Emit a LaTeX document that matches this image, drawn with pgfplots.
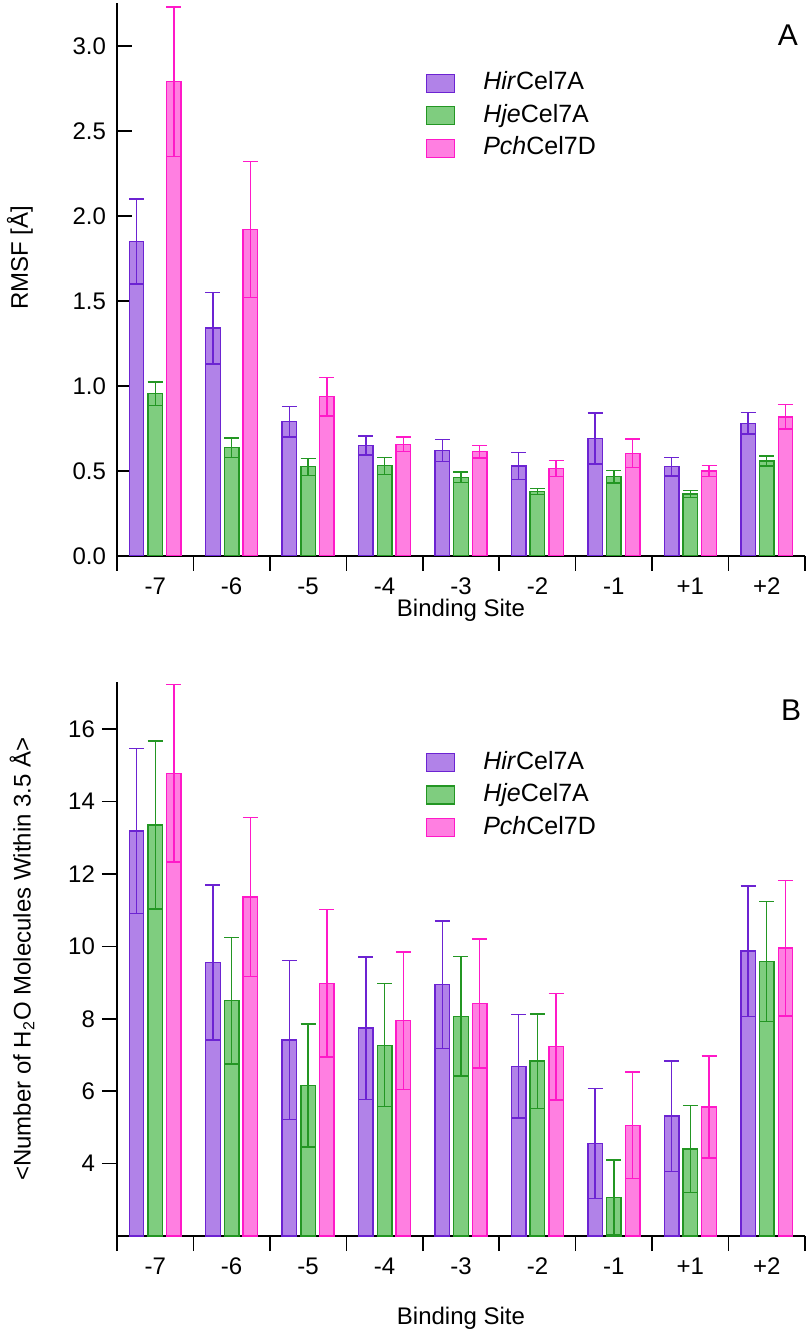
\documentclass[border=0pt]{standalone}
\usepackage{pgfplots}
\pgfplotsset{compat=1.18}
\usepackage{pgfplotstable}
\usepackage{fontspec}
\setmainfont{Liberation Sans}

\definecolor{pE}{RGB}{108,35,210}
\definecolor{pF}{RGB}{177,130,232}
\definecolor{gE}{RGB}{35,150,35}
\definecolor{gF}{RGB}{127,205,127}
\definecolor{mE}{RGB}{255,25,200}
\definecolor{mF}{RGB}{255,127,225}

% RMSF data: x, value, error
\pgfplotstableread{
x y e
0 1.85 0.25
1 1.34 0.21
2 0.79 0.09
3 0.65 0.057
4 0.62 0.064
5 0.53 0.08
6 0.69 0.15
7 0.525 0.055
8 0.78 0.063
}\AHir
\pgfplotstableread{
x y e
0 0.955 0.068
1 0.637 0.057
2 0.525 0.05
3 0.531 0.05
4 0.463 0.03
5 0.38 0.018
6 0.467 0.037
7 0.365 0.02
8 0.559 0.03
}\AHje
\pgfplotstableread{
x y e
0 2.79 0.44
1 1.92 0.40
2 0.937 0.114
3 0.657 0.043
4 0.614 0.037
5 0.516 0.047
6 0.604 0.085
7 0.50 0.033
8 0.818 0.072
}\APch
% water count data
\pgfplotstableread{
x y e
0 13.19 2.28
1 9.55 2.14
2 7.41 2.20
3 7.74 1.97
4 8.94 1.76
5 6.69 1.43
6 4.55 1.52
7 5.31 1.52
8 9.87 1.80
}\BHir
\pgfplotstableread{
x y e
0 13.35 2.32
1 8.50 1.75
2 6.16 1.70
3 7.27 1.70
4 8.07 1.65
5 6.83 1.30
6 3.07 1.03
7 4.40 1.20
8 9.58 1.66
}\BHje
\pgfplotstableread{
x y e
0 14.78 2.45
1 11.36 2.20
2 8.98 2.04
3 7.95 1.90
4 8.42 1.78
5 7.23 1.47
6 5.06 1.47
7 5.56 1.41
8 9.95 1.87
}\BPch

\pgfplotsset{
  /pgfplots/ybar legend/.style={/pgfplots/legend image code/.code={%
      \draw[##1,/pgf/bar shift=0pt,line width=0.7pt] (0pt,-4.5pt) rectangle (14pt,4.5pt);}},
  mybase/.style={
    width=344pt, scale only axis,
    xmin=-0.5, xmax=8.5,
    axis lines*=left,
    axis line style={line width=0.8pt},
    tick style={black, line width=0.8pt},
    xtick={0,...,8},
    xticklabels={-7,-6,-5,-4,-3,-2,-1,+1,+2},
    minor xtick={-0.5,0.5,...,8.5},
    major x tick style={draw=none},
    minor x tick style={black, line width=0.8pt},
    xtick align=outside,
    major tick length=7.5pt, minor tick length=7.5pt,
    /pgf/number format/assume math mode=true,
    every tick label/.append style={font=\fontsize{12}{14}\selectfont},
    label style={font=\fontsize{12}{14}\selectfont},
    ybar, bar width=7.25pt,
    error bars/y dir=both, error bars/y explicit,
    every axis plot/.append style={line width=0.7pt},
    legend cell align=left,
    legend style={draw=none, fill=none, inner sep=0pt, outer sep=0pt,
      font=\fontsize{12.5}{15}\selectfont, row sep=2.75pt,
      nodes={inner sep=1pt, text height=9pt, text depth=2.5pt},
      /tikz/every odd column/.append style={column sep=13pt}},
  },
  hir/.style={fill=pF, draw=pE, bar shift=-9.35pt,
    error bars/error bar style={pE, line width=0.7pt},
    error bars/error mark options={rotate=90, pE, mark size=3.75pt, line width=0.7pt}},
  hje/.style={fill=gF, draw=gE, bar shift=0pt,
    error bars/error bar style={gE, line width=0.7pt},
    error bars/error mark options={rotate=90, gE, mark size=3.75pt, line width=0.7pt}},
  pch/.style={fill=mF, draw=mE, bar shift=9.35pt,
    error bars/error bar style={mE, line width=0.7pt},
    error bars/error mark options={rotate=90, mE, mark size=3.75pt, line width=0.7pt}},
}

\begin{document}
\begin{tikzpicture}
\useasboundingbox (-58.5pt,-49.5pt) rectangle (346.5pt,618pt);

% Panel A
\begin{axis}[mybase, at={(0pt,340pt)}, anchor=south west,
  height=276.25pt, ymin=0, ymax=3.25,
  ytick={0,0.5,...,3},
  ytick align=inside,
  yticklabel style={/pgf/number format/fixed, /pgf/number format/fixed zerofill,
    /pgf/number format/precision=1, xshift=-2pt},
  ylabel={RMSF [Å]},
  ylabel style={at={(axis description cs:-0.141,0.54)}, anchor=center},
  xlabel={Binding Site},
  xlabel style={at={(axis description cs:0.5,0)}, anchor=center, yshift=-27pt},
  legend style={at={(axis description cs:0.449,0.880)}, anchor=north west},
]
\addplot[hir] table[x=x,y=y,y error=e] {\AHir};
\addplot[hje] table[x=x,y=y,y error=e] {\AHje};
\addplot[pch] table[x=x,y=y,y error=e] {\APch};
\legend{\textit{Hir}Cel7A,\textit{Hje}Cel7A,\textit{Pch}Cel7D}
\node[font=\fontsize{15}{17}\selectfont] at (axis description cs:0.975,0.943) {A};
\end{axis}

% Panel B
\begin{axis}[mybase, at={(0pt,0pt)}, anchor=south west,
  height=276.95pt, ymin=2, ymax=17.3,
  ytick={4,6,...,16},
  ytick align=outside,
  ylabel={<Number of H\textsubscript{2}O Molecules Within 3.5 Å>},
  ylabel style={at={(axis description cs:-0.138,0.5)}, anchor=center},
  xlabel={Binding Site},
  xlabel style={at={(axis description cs:0.5,0)}, anchor=center, yshift=-41pt},
  legend style={at={(axis description cs:0.449,0.879)}, anchor=north west},
]
\addplot[hir] table[x=x,y=y,y error=e] {\BHir};
\addplot[hje] table[x=x,y=y,y error=e] {\BHje};
\addplot[pch] table[x=x,y=y,y error=e] {\BPch};
\legend{\textit{Hir}Cel7A,\textit{Hje}Cel7A,\textit{Pch}Cel7D}
\node[font=\fontsize{15}{17}\selectfont] at (axis description cs:0.98,0.95) {B};
\end{axis}
\end{tikzpicture}
\end{document}
